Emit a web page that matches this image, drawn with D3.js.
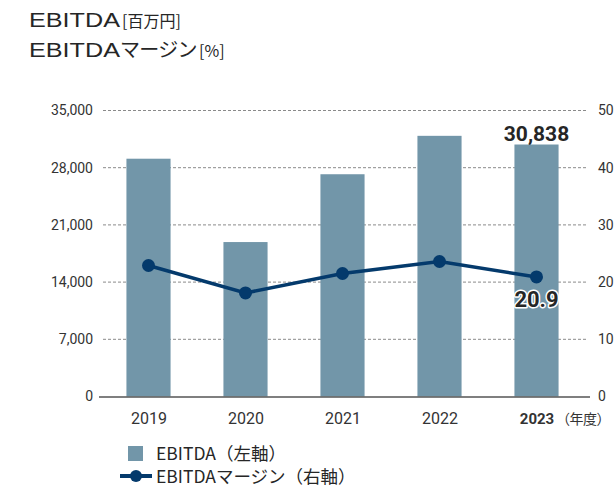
<!DOCTYPE html>
<html lang="ja">
<head>
<meta charset="utf-8">
<script src="https://cdn.jsdelivr.net/npm/d3@7"></script>
<style>
  html, body { margin: 0; padding: 0; background: #fff; }
  svg { display: block; }
</style>
</head>
<body>
<div id="chart"></div>
<script>
// EBITDA (bars, left axis) and EBITDA margin (line, right axis)
const years = ["2019", "2020", "2021", "2022", "2023"];
const ebitda = [29100, 18900, 27200, 31900, 30838];      // 百万円
const margin = [22.9, 18.1, 21.5, 23.6, 20.9];           // %
const leftTicks = [0, 7000, 14000, 21000, 28000, 35000];
const rightTicks = [0, 10, 20, 30, 40, 50];

const W = 614, H = 489;
const barColor = "#7296a9";
const lineColor = "#043a6c";
const textColor = "#262626";
const numFont = "Roboto, 'Noto Sans', sans-serif";
const jpFont = "'Noto Sans CJK JP', 'Noto Sans', sans-serif";
const latinFont = "'Liberation Sans', Arial, sans-serif";

const svg = d3.select("#chart").append("svg")
  .attr("width", W).attr("height", H);

const plot = { left: 100, right: 590, top: 110.5, bottom: 396.5 };

const x = d3.scalePoint().domain(years).range([plot.left, plot.right - 5]).padding(0.5);
const barW = x.step() * 0.455;
const yL = d3.scaleLinear().domain([0, 35000]).range([plot.bottom, plot.top]);
const yR = d3.scaleLinear().domain([0, 50]).range([plot.bottom, plot.top]);

// Title (wide Latin face for the heading words)
const title = svg.append("g").attr("fill", textColor);
title.append("text").attr("x", 29).attr("y", 27)
  .attr("font-family", latinFont).attr("font-size", 20.5)
  .attr("textLength", 91).attr("lengthAdjust", "spacingAndGlyphs")
  .text("EBITDA");
title.append("text").attr("x", 122).attr("y", 27)
  .attr("font-family", jpFont).attr("font-size", 16).text("[百万円]");
title.append("text").attr("x", 29).attr("y", 57)
  .attr("font-family", latinFont).attr("font-size", 20.5)
  .attr("textLength", 91).attr("lengthAdjust", "spacingAndGlyphs")
  .text("EBITDA");
title.append("text").attr("x", 120).attr("y", 57)
  .attr("font-family", jpFont).attr("font-size", 20).attr("letter-spacing", -0.7)
  .text("マージン");
title.append("text").attr("x", 199).attr("y", 57)
  .attr("font-family", jpFont).attr("font-size", 16).text("[%]");

// Gridlines
svg.append("g")
  .selectAll("line")
  .data(leftTicks.filter(d => d > 0))
  .join("line")
  .attr("x1", 103).attr("x2", 588)
  .attr("y1", d => yL(d)).attr("y2", d => yL(d))
  .attr("stroke", "#8a8a8a").attr("stroke-width", 1)
  .attr("stroke-dasharray", "3,2");

// Left axis labels
const axisL = d3.axisLeft(yL).tickValues(leftTicks).tickSize(0).tickPadding(0)
  .tickFormat(d3.format(","));
svg.append("g").attr("transform", "translate(93,0)").call(axisL)
  .call(g => g.select(".domain").remove())
  .call(g => g.selectAll("text")
    .attr("font-family", numFont).attr("font-size", 14).attr("fill", "#333"));

// Right axis labels
const axisR = d3.axisRight(yR).tickValues(rightTicks).tickSize(0).tickPadding(0)
  .tickFormat(d3.format("d"));
svg.append("g").attr("transform", "translate(598,0)").call(axisR)
  .call(g => g.select(".domain").remove())
  .call(g => g.selectAll("text")
    .attr("font-family", numFont).attr("font-size", 14).attr("fill", "#333"));

// Bars
svg.append("g")
  .selectAll("rect")
  .data(years)
  .join("rect")
  .attr("x", (d) => x(d) - barW / 2)
  .attr("y", (d, i) => yL(ebitda[i]))
  .attr("width", barW)
  .attr("height", (d, i) => yL(0) - yL(ebitda[i]))
  .attr("fill", barColor);

// Baseline
svg.append("line")
  .attr("x1", 99).attr("x2", 590)
  .attr("y1", yL(0) + 0.5).attr("y2", yL(0) + 0.5)
  .attr("stroke", "#555").attr("stroke-width", 1.5);

// Year labels
const xAxis = d3.axisBottom(x).tickSize(0).tickPadding(0);
svg.append("g").attr("transform", `translate(0,${yL(0) + 27})`).call(xAxis)
  .call(g => g.select(".domain").remove())
  .call(g => g.selectAll("text")
    .attr("dy", 0)
    .attr("font-family", numFont).attr("font-size", d => d === "2023" ? 15 : 16)
    .attr("fill", "#333")
    .attr("font-weight", d => d === "2023" ? 700 : 400));
svg.append("text")
  .attr("x", 556).attr("y", yL(0) + 27)
  .attr("font-family", jpFont).attr("font-size", 14).attr("letter-spacing", -0.5)
  .attr("fill", "#333")
  .text("（年度）");

// Margin line
const line = d3.line().x((d, i) => x(years[i])).y(d => yR(d));
svg.append("path")
  .datum(margin)
  .attr("d", line)
  .attr("fill", "none")
  .attr("stroke", lineColor)
  .attr("stroke-width", 3.5);
svg.append("g")
  .selectAll("circle")
  .data(margin)
  .join("circle")
  .attr("cx", (d, i) => x(years[i]))
  .attr("cy", d => yR(d))
  .attr("r", 6.5)
  .attr("fill", lineColor);

// Value labels for the latest year
const last = years.length - 1;
svg.append("text")
  .attr("x", x(years[last])).attr("y", yL(ebitda[last]) - 4)
  .attr("text-anchor", "middle")
  .attr("font-family", numFont).attr("font-size", 21).attr("font-weight", 700)
  .attr("fill", textColor)
  .text(d3.format(",")(ebitda[last]));
svg.append("text")
  .attr("x", x(years[last])).attr("y", yR(margin[last]) + 30)
  .attr("text-anchor", "middle")
  .attr("font-family", numFont).attr("font-size", 22).attr("font-weight", 700)
  .attr("fill", textColor)
  .attr("stroke", "#fff").attr("stroke-width", 3).attr("paint-order", "stroke")
  .attr("stroke-linejoin", "round")
  .text(d3.format(".1f")(margin[last]));

// Legend
const legend = svg.append("g").attr("font-family", jpFont).attr("font-size", 17.5).attr("fill", textColor);
legend.append("rect")
  .attr("x", 128).attr("y", 446).attr("width", 15).attr("height", 15)
  .attr("fill", barColor);
legend.append("text").attr("x", 156).attr("y", 459.5).text("EBITDA（左軸）");
legend.append("line")
  .attr("x1", 120).attr("x2", 152).attr("y1", 476).attr("y2", 476)
  .attr("stroke", lineColor).attr("stroke-width", 4);
legend.append("circle").attr("cx", 136).attr("cy", 476).attr("r", 6).attr("fill", lineColor);
legend.append("text").attr("x", 156).attr("y", 482.5).text("EBITDAマージン（右軸）");
</script>
</body>
</html>
